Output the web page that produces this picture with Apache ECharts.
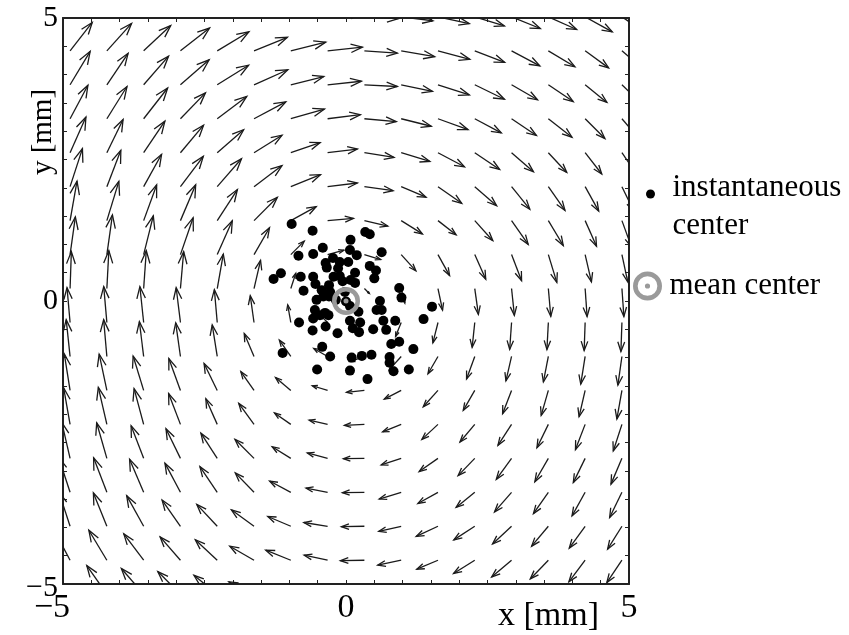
<!DOCTYPE html>
<html><head><meta charset="utf-8">
<script src="https://cdn.jsdelivr.net/npm/echarts@6/dist/echarts.min.js"></script>
<style>html,body{margin:0;padding:0;background:#fff}#c{width:849px;height:635px}</style>
</head><body><div id="c"></div>
<script>
// ---- vector field grid (mm) ----
const gridX = [-4.875,-4.225,-3.575,-2.925,-2.275,-1.625,-0.975,-0.325,0.325,0.975,1.625,2.275,2.925,3.575,4.225,4.875];
const gridY = [5.02,4.42,3.82,3.22,2.62,2.02,1.42,0.82,0.22,-0.38,-0.98,-1.58,-2.18,-2.78,-3.38,-3.98,-4.58,-5.18];
// arrow direction (deg, counter-clockwise from +x), one row per gridY
const arrowDir = [
 [48,44,40,34,28,20,13,6, -3,-7,-12,-17,-22,-24,-29,-34],
 [52,48,43,38,31,22,14,6, -4,-10,-15,-21,-28,-31,-36,-41],
 [59,56,49,41,32,24,14,6, -3,-12,-18,-26,-30,-34,-39,-44],
 [62,58,52,46,37,28,16,7, -5,-14,-20,-28,-34,-38,-45,-49],
 [66,64,56,50,41,32,19,7, -9,-17,-28,-34,-41,-47,-52,-56],
 [72,69,61,53,49,37,22,7, -8,-23,-35,-41,-51,-55,-61,-64],
 [80,73,70,67,57,45,29,5, -13,-32,-38,-48,-55,-59,-66,-70],
 [82,82,76,71,66,60,45,15, -17,-48,-61,-66,-69,-73,-77,-78],
 [88,87,86,85,80,77,72,51, -45,-76,-78,-82,-84,-85,-86,-86],
 [95,95,96,97,95,98,100,135, 220,248,256,264,266,267,268,268],
 [96,95,97,98,99,113,125,150, 200,228,240,250,257,259,261,262],
 [99,102,107,110,116,125,140,163, 186,207,228,240,249,254,257,260],
 [100,103,105,111,114,126,145,167, 183,202,223,230,237,244,249,252],
 [103,106,111,116,123,135,148,165, 181,198,215,226,234,240,244,247],
 [108,111,113,118,124,134,152,169, 181,197,209,219,229,235,241,244],
 [108,112,119,125,133,144,157,171, 181,193,205,213,223,230,234,238],
 [118,121,127,131,137,150,158,168, 181,192,203,212,220,226,233,236],
 [122,125,131,135,141,154,161,169, 181,191,200,210,216,221,226,230]
];
// arrow magnitude (speed units), one row per gridY
const arrowLen = [
 [36,37,37,37,37,36,36,35, 34,32,32,31,31,31,31,29],
 [36,37,37,37,37,36,36,35, 33,34,33,32,32,31,29,28],
 [39,38,38,38,37,37,34,34, 33,32,33,33,30,30,28,27],
 [38,38,39,36,37,36,35,33, 32,31,32,30,30,30,28,27],
 [39,37,38,36,35,33,31,30, 30,30,30,30,29,27,27,26],
 [40,39,37,38,37,35,32,30, 29,27,29,29,29,29,28,27],
 [40,41,38,39,37,33,29,26, 24,25,23,27,29,29,28,28],
 [38,40,40,39,37,31,19,17, 17,22,24,27,28,29,28,28],
 [37,38,38,37,35,29,16,7, 7,15,22,26,27,28,28,28],
 [35,36,36,35,33,27,18,8, 8,15,21,25,27,27,28,29],
 [37,37,35,34,32,25,20,16, 15,18,20,24,25,26,28,29],
 [37,37,36,34,30,23,20,16, 18,19,22,23,25,26,27,29],
 [37,38,37,33,28,26,20,19, 20,20,22,23,25,26,27,28],
 [37,37,35,33,30,27,22,21, 21,21,23,24,26,27,27,28],
 [37,37,36,33,31,27,24,22, 22,23,23,24,26,26,27,28],
 [36,36,35,32,30,28,25,24, 23,23,24,25,26,26,27,27],
 [35,35,33,31,30,28,27,24, 24,24,23,25,26,26,27,27],
 [35,35,34,32,30,28,27,25, 24,24,24,25,26,26,27,27]
];
// instantaneous centers (mm)
const centerX = [-0.96,-0.59,0.08,0.34,0.42,-0.41,-0.84,-0.58,0.07,0.19,0.04,0.63,-0.36,-0.34,0.42,0.53,0.50,-1.28,-1.15,-0.80,-0.58,-0.54,-0.75,-0.22,-0.06,0.08,0.16,0.16,-0.30,-0.28,-0.43,-0.40,-0.52,0.94,0.98,0.60,0.54,0.63,1.52,1.37,0.00,0.07,-0.55,-0.46,-0.37,-0.58,-0.31,-0.83,-0.36,-0.59,-0.15,0.07,0.12,0.25,0.23,0.22,0.48,0.71,0.66,0.87,0.80,0.94,1.19,-0.42,-0.28,-1.12,0.10,0.28,0.45,0.77,0.77,-0.51,0.07,0.84,1.11,0.38,-0.11,-0.30,-0.14,-0.02,-0.18,-0.11,-0.23];
const centerY = [1.36,1.24,1.08,1.22,1.18,0.94,0.80,0.83,0.90,0.81,0.69,0.86,0.67,0.59,0.62,0.54,0.40,0.39,0.49,0.43,0.43,0.30,0.18,0.43,0.35,0.37,0.50,0.32,0.28,0.16,0.19,0.08,0.02,0.23,0.06,0.00,-0.16,-0.16,-0.10,-0.32,-0.01,-0.09,-0.16,-0.25,-0.21,-0.31,-0.25,-0.38,-0.45,-0.52,-0.57,-0.35,-0.48,-0.38,-0.55,-0.19,-0.50,-0.51,-0.35,-0.35,-0.76,-0.72,-0.85,-0.81,-0.98,-0.92,-1.00,-0.97,-0.95,-0.99,-1.09,-1.21,-1.23,-1.24,-1.21,-1.38,0.44,0.08,0.58,0.16,0.02,0.69,0.76];
const meanCenter = [0.0, 0.0];
const tickValues = [-5, 0, 5];
const tickLabels = ['\u22125', '0', '5'];
const seriesNames = ['instantaneous center', 'mean center'];

const QUIVER_SCALE = 10 / 566; // mm of arrow per speed unit
const FONT = 'Liberation Serif';

const arrows = [];
gridY.forEach((y, i) => gridX.forEach((x, j) => {
  const a = arrowDir[i][j] * Math.PI / 180;
  const L = arrowLen[i][j] * QUIVER_SCALE;
  arrows.push([x, y, L * Math.cos(a), L * Math.sin(a)]);
}));
const centers = centerX.map((x, i) => [x, centerY[i]]);

const RING = 'path://M14,0A14,14,0,1,1,14,28A14,14,0,1,1,14,0ZM14,4.5A9.5,9.5,0,1,0,14,23.5A9.5,9.5,0,1,0,14,4.5ZM14,11.5A2.5,2.5,0,1,1,14,16.5A2.5,2.5,0,1,1,14,11.5Z';

function tickIndex(v) { return tickValues.findIndex(t => Math.abs(t - v) < 1e-9); }

const axisCommon = {
  type: 'value', min: -5, max: 5, interval: 0.5,
  axisLine: { show: true, onZero: false, lineStyle: { color: '#222', width: 2 } },
  axisTick: { show: true, inside: true, length: 4, lineStyle: { color: '#222', width: 1 } },
  splitLine: { show: false }
};

const chart = echarts.init(document.getElementById('c'), null, { renderer: 'canvas' });
chart.setOption({
  backgroundColor: '#fff',
  animation: false,
  grid: { left: 63, top: 18, width: 566, height: 566, containLabel: false, outerBoundsMode: 'none' },
  xAxis: [
    Object.assign({}, axisCommon, {
      position: 'bottom',
      axisLabel: {
        show: true, showMinLabel: true, showMaxLabel: true, margin: 7,
        color: '#000', fontFamily: FONT, fontSize: 34,
        formatter: v => { const k = tickIndex(v); if (k < 0) return ''; return k === 0 ? '{neg|' + tickLabels[k] + '}' : tickLabels[k]; },
        rich: { neg: { color: '#000', fontFamily: FONT, fontSize: 34, padding: [0, 22, 0, 0] } }
      }
    }),
    Object.assign({}, axisCommon, { position: 'top', axisLabel: { show: false } })
  ],
  yAxis: [
    Object.assign({}, axisCommon, {
      position: 'left',
      axisLabel: {
        show: true, showMinLabel: true, showMaxLabel: true, margin: 5,
        color: '#000', fontFamily: FONT, fontSize: 30,
        formatter: v => { const k = tickIndex(v); if (k < 0) return ''; return k === 0 ? '{neg|' + tickLabels[k] + '}' : tickLabels[k]; },
        rich: { neg: { color: '#000', fontFamily: FONT, fontSize: 30, padding: [8, 0, 0, 0] } }
      }
    }),
    Object.assign({}, axisCommon, { position: 'right', axisLabel: { show: false } })
  ],
  legend: [
    {
      data: [seriesNames[0]], orient: 'vertical', left: 646, top: 152, padding: 0,
      itemWidth: 34, itemHeight: 9, selectedMode: false,
      formatter: () => '{e| }\n{t|instantaneous}\n{t|center}',
      textStyle: {
        color: '#000', fontFamily: FONT, fontSize: 31,
        rich: {
          e: { fontSize: 8, lineHeight: 26 },
          t: { color: '#000', fontFamily: FONT, fontSize: 31, lineHeight: 38 }
        }
      }
    },
    {
      data: [seriesNames[1]], orient: 'vertical', left: 633, top: 269, padding: 0,
      itemWidth: 34, itemHeight: 29, selectedMode: false,
      textStyle: { color: '#000', fontFamily: FONT, fontSize: 31, lineHeight: 34 }
    }
  ],
  graphic: [
    { type: 'text', x: 498, y: 616, z: 10,
      style: { text: 'x [mm]', fill: '#000', font: '34px "Liberation Serif"', textAlign: 'left', textVerticalAlign: 'middle' } },
    { type: 'text', x: 43, y: 132, rotation: Math.PI / 2, z: 10,
      style: { text: 'y [mm]', fill: '#000', font: '29px "Liberation Serif"', textAlign: 'center', textVerticalAlign: 'middle' } }
  ],
  series: [
    {
      type: 'custom', name: 'velocity', clip: true, z: 1, silent: true,
      encode: { x: 0, y: 1 },
      data: arrows,
      renderItem: (params, api) => {
        const x = api.value(0), y = api.value(1), dx = api.value(2), dy = api.value(3);
        const p0 = api.coord([x, y]);
        const p1 = api.coord([x + dx, y + dy]);
        const vx = p1[0] - p0[0], vy = p1[1] - p0[1];
        const a = 0.33, b = 0.36;
        const h1 = [p1[0] - a * (vx + b * vy), p1[1] - a * (vy - b * vx)];
        const h2 = [p1[0] - a * (vx - b * vy), p1[1] - a * (vy + b * vx)];
        const st = { stroke: '#1a1a1a', lineWidth: 1.3, fill: null };
        return { type: 'group', children: [
          { type: 'line', shape: { x1: p0[0], y1: p0[1], x2: p1[0], y2: p1[1] }, style: st },
          { type: 'polyline', shape: { points: [h1, p1, h2] }, style: st }
        ] };
      }
    },
    {
      type: 'scatter', name: seriesNames[0], z: 3, symbol: 'circle', symbolSize: 10,
      itemStyle: { color: '#000', opacity: 1 }, data: centers, silent: true
    },
    {
      type: 'scatter', name: seriesNames[1], z: 4, symbol: RING, symbolSize: 28,
      itemStyle: { color: '#9a9a9a', opacity: 1 }, data: [meanCenter], silent: true
    }
  ]
});
</script></body></html>
